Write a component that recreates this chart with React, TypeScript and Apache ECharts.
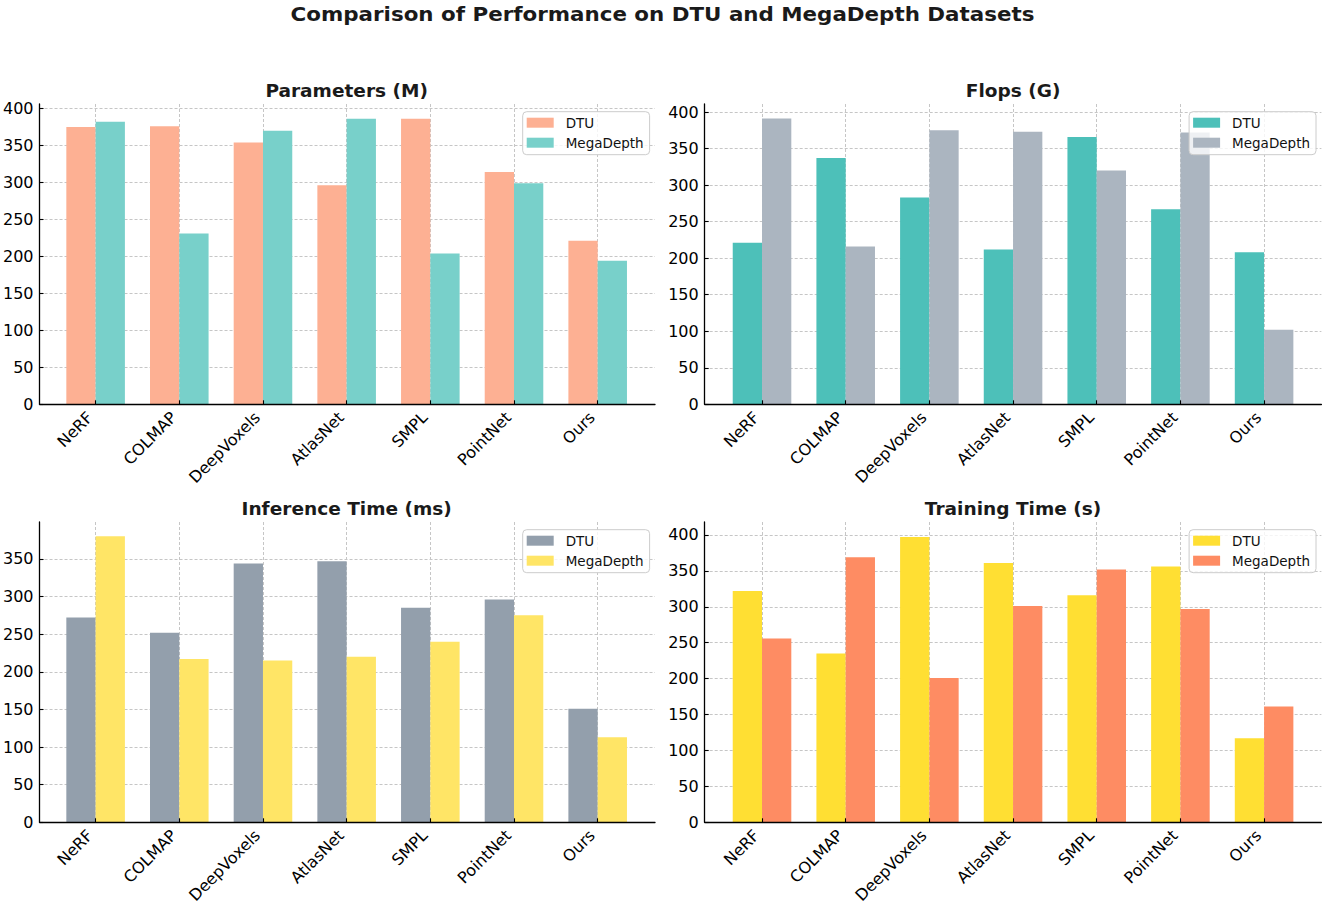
import React, { useEffect, useRef } from "react";
import * as echarts from "echarts";

const mainTitle = "Comparison of Performance on DTU and MegaDepth Datasets";
const categories = ["NeRF", "COLMAP", "DeepVoxels", "AtlasNet", "SMPL", "PointNet", "Ours"];
const seriesNames = ["DTU", "MegaDepth"];
const panelTitles = ["Parameters (M)", "Flops (G)", "Inference Time (ms)", "Training Time (s)"];
const yTickStep = 50;

const paramsDTU = [375, 376, 354, 296, 386, 314, 221];
const paramsMega = [382, 231, 370, 386, 204, 299, 194];
const flopsDTU = [221, 337, 283, 212, 366, 267, 208];
const flopsMega = [391, 216, 375, 373, 320, 372, 102];
const inferDTU = [272, 252, 344, 347, 285, 296, 151];
const inferMega = [380, 217, 215, 220, 240, 275, 113];
const trainDTU = [322, 235, 397, 361, 316, 356, 117];
const trainMega = [256, 369, 201, 301, 352, 297, 161];
const yMaxes = [406, 411, 399, 418];

const FONT = "DejaVu Sans";
const PLOT_W = 616.7;
const PLOT_H = 300.3;
const X_PAD_UNITS = 0.685;

const panels = [
  { key: "p", title: panelTitles[0], dtu: paramsDTU, mega: paramsMega, ymax: yMaxes[0], colors: ["#FDB093", "#78D0CA"], left: 38.3, top: 104 },
  { key: "f", title: panelTitles[1], dtu: flopsDTU, mega: flopsMega, ymax: yMaxes[1], colors: ["#4DC0B9", "#ABB5C0"], left: 704.7, top: 104 },
  { key: "i", title: panelTitles[2], dtu: inferDTU, mega: inferMega, ymax: yMaxes[2], colors: ["#939FAC", "#FFE566"], left: 38.3, top: 522 },
  { key: "t", title: panelTitles[3], dtu: trainDTU, mega: trainMega, ymax: yMaxes[3], colors: ["#FFDF33", "#FE8C63"], left: 704.7, top: 522 },
];

function buildOption() {
  const grid: any[] = [];
  const xAxis: any[] = [];
  const yAxis: any[] = [];
  const series: any[] = [];
  const legend: any[] = [];
  const graphic: any[] = [];

  graphic.push({
    type: "text",
    x: 662.5,
    y: 14,
    scaleX: 1.07,
    style: {
      text: mainTitle,
      textAlign: "center",
      textVerticalAlign: "middle",
      font: `bold 20px "${FONT}"`,
      fill: "#1a1a1a",
    },
  });

  panels.forEach((p) => {
    const unit = PLOT_W / (categories.length - 1 + 2 * X_PAD_UNITS);
    const innerW = unit * categories.length;
    const inset = (PLOT_W - innerW) / 2;
    const outerGrid = grid.length;
    grid.push({ left: p.left, top: p.top, width: PLOT_W, height: PLOT_H, containLabel: false });
    const innerGrid = grid.length;
    grid.push({ left: p.left + inset, top: p.top, width: innerW, height: PLOT_H, containLabel: false });

    // outer x axis: only the bottom spine
    xAxis.push({
      gridIndex: outerGrid,
      type: "value",
      min: 0,
      max: 1,
      z: 5,
      axisLine: { show: true, onZero: false, lineStyle: { color: "#000", width: 1.3 } },
      axisTick: { show: false },
      axisLabel: { show: false },
      splitLine: { show: false },
    });
    // inner category axis: labels + vertical grid lines
    const innerX = xAxis.length;
    xAxis.push({
      gridIndex: innerGrid,
      type: "category",
      data: categories,
      position: "bottom",
      axisLine: { show: false },
      axisTick: { show: false },
      axisLabel: {
        interval: 0,
        rotate: 45,
        margin: 16,
        fontSize: 16,
        fontFamily: FONT,
        color: "#000",
        align: "right",
        verticalAlign: "bottom",
      },
      splitLine: {
        show: true,
        interval: 0,
        alignWithLabel: true,
        lineStyle: { color: "#c6c6c6", type: [3, 2], width: 1 },
      },
    });
    // tick-only category axis drawn above bars
    xAxis.push({
      gridIndex: innerGrid,
      type: "category",
      data: categories,
      position: "bottom",
      offset: 0,
      z: 5,
      axisLine: { show: false },
      axisTick: { show: true, inside: true, length: 4, alignWithLabel: true, interval: 0, lineStyle: { color: "#000", width: 1.1 } },
      axisLabel: { show: false },
      splitLine: { show: false },
    });

    yAxis.push({
      gridIndex: outerGrid,
      type: "value",
      min: 0,
      max: p.ymax,
      interval: yTickStep,
      axisLine: { show: true, lineStyle: { color: "#000", width: 1.3 } },
      axisTick: { show: true, inside: true, length: 4, lineStyle: { color: "#000", width: 1.1 } },
      axisLabel: { margin: 6, fontSize: 16, fontFamily: FONT, color: "#000", showMaxLabel: false },
      splitLine: { show: true, showMaxLine: false, lineStyle: { color: "#c6c6c6", type: [3, 2], width: 1 } },
    });
    const innerY = yAxis.length;
    yAxis.push({ gridIndex: innerGrid, type: "value", min: 0, max: p.ymax, show: false });

    const names = seriesNames.map((n) => `${p.key}|${n}`);
    [p.dtu, p.mega].forEach((vals, si) => {
      series.push({
        type: "bar",
        name: names[si],
        xAxisIndex: innerX,
        yAxisIndex: innerY,
        data: vals,
        barWidth: unit * 0.35,
        barGap: "0%",
        itemStyle: { color: p.colors[si] },
        emphasis: { disabled: true },
      });
    });

    legend.push({
      data: names,
      formatter: (n: string) => n.split("|")[1],
      orient: "vertical",
      left: p.left + 484.4,
      top: p.top + 7.7,
      padding: [3, 6, 4, 4],
      itemWidth: 27,
      itemHeight: 10,
      itemGap: 4,
      icon: "rect",
      selectedMode: false,
      backgroundColor: "rgba(255,255,255,0.8)",
      borderColor: "#cccccc",
      borderWidth: 1,
      borderRadius: 4,
      textStyle: { fontSize: 13.5, fontFamily: FONT, color: "#111", lineHeight: 16, padding: [0, 0, 0, 7] },
    });

    graphic.push({
      type: "text",
      x: p.left + PLOT_W / 2,
      y: p.top - 13,
      scaleX: 1.06,
      style: {
        text: p.title,
        textAlign: "center",
        textVerticalAlign: "middle",
        font: `bold 17.5px "${FONT}"`,
        fill: "#1a1a1a",
      },
    });
  });

  return {
    animation: false,
    backgroundColor: "#ffffff",
    textStyle: { fontFamily: FONT },
    grid,
    xAxis,
    yAxis,
    series,
    legend,
    graphic,
  };
}

export default function App() {
  const ref = useRef<HTMLDivElement>(null);
  useEffect(() => {
    if (!ref.current) return;
    const chart = echarts.init(ref.current, undefined, { renderer: "svg" });
    chart.setOption(buildOption() as any);
    return () => chart.dispose();
  }, []);
  return (
    <div
      ref={ref}
      style={{ position: "fixed", left: 0, top: 0, width: 1325, height: 906, background: "#fff" }}
    />
  );
}
